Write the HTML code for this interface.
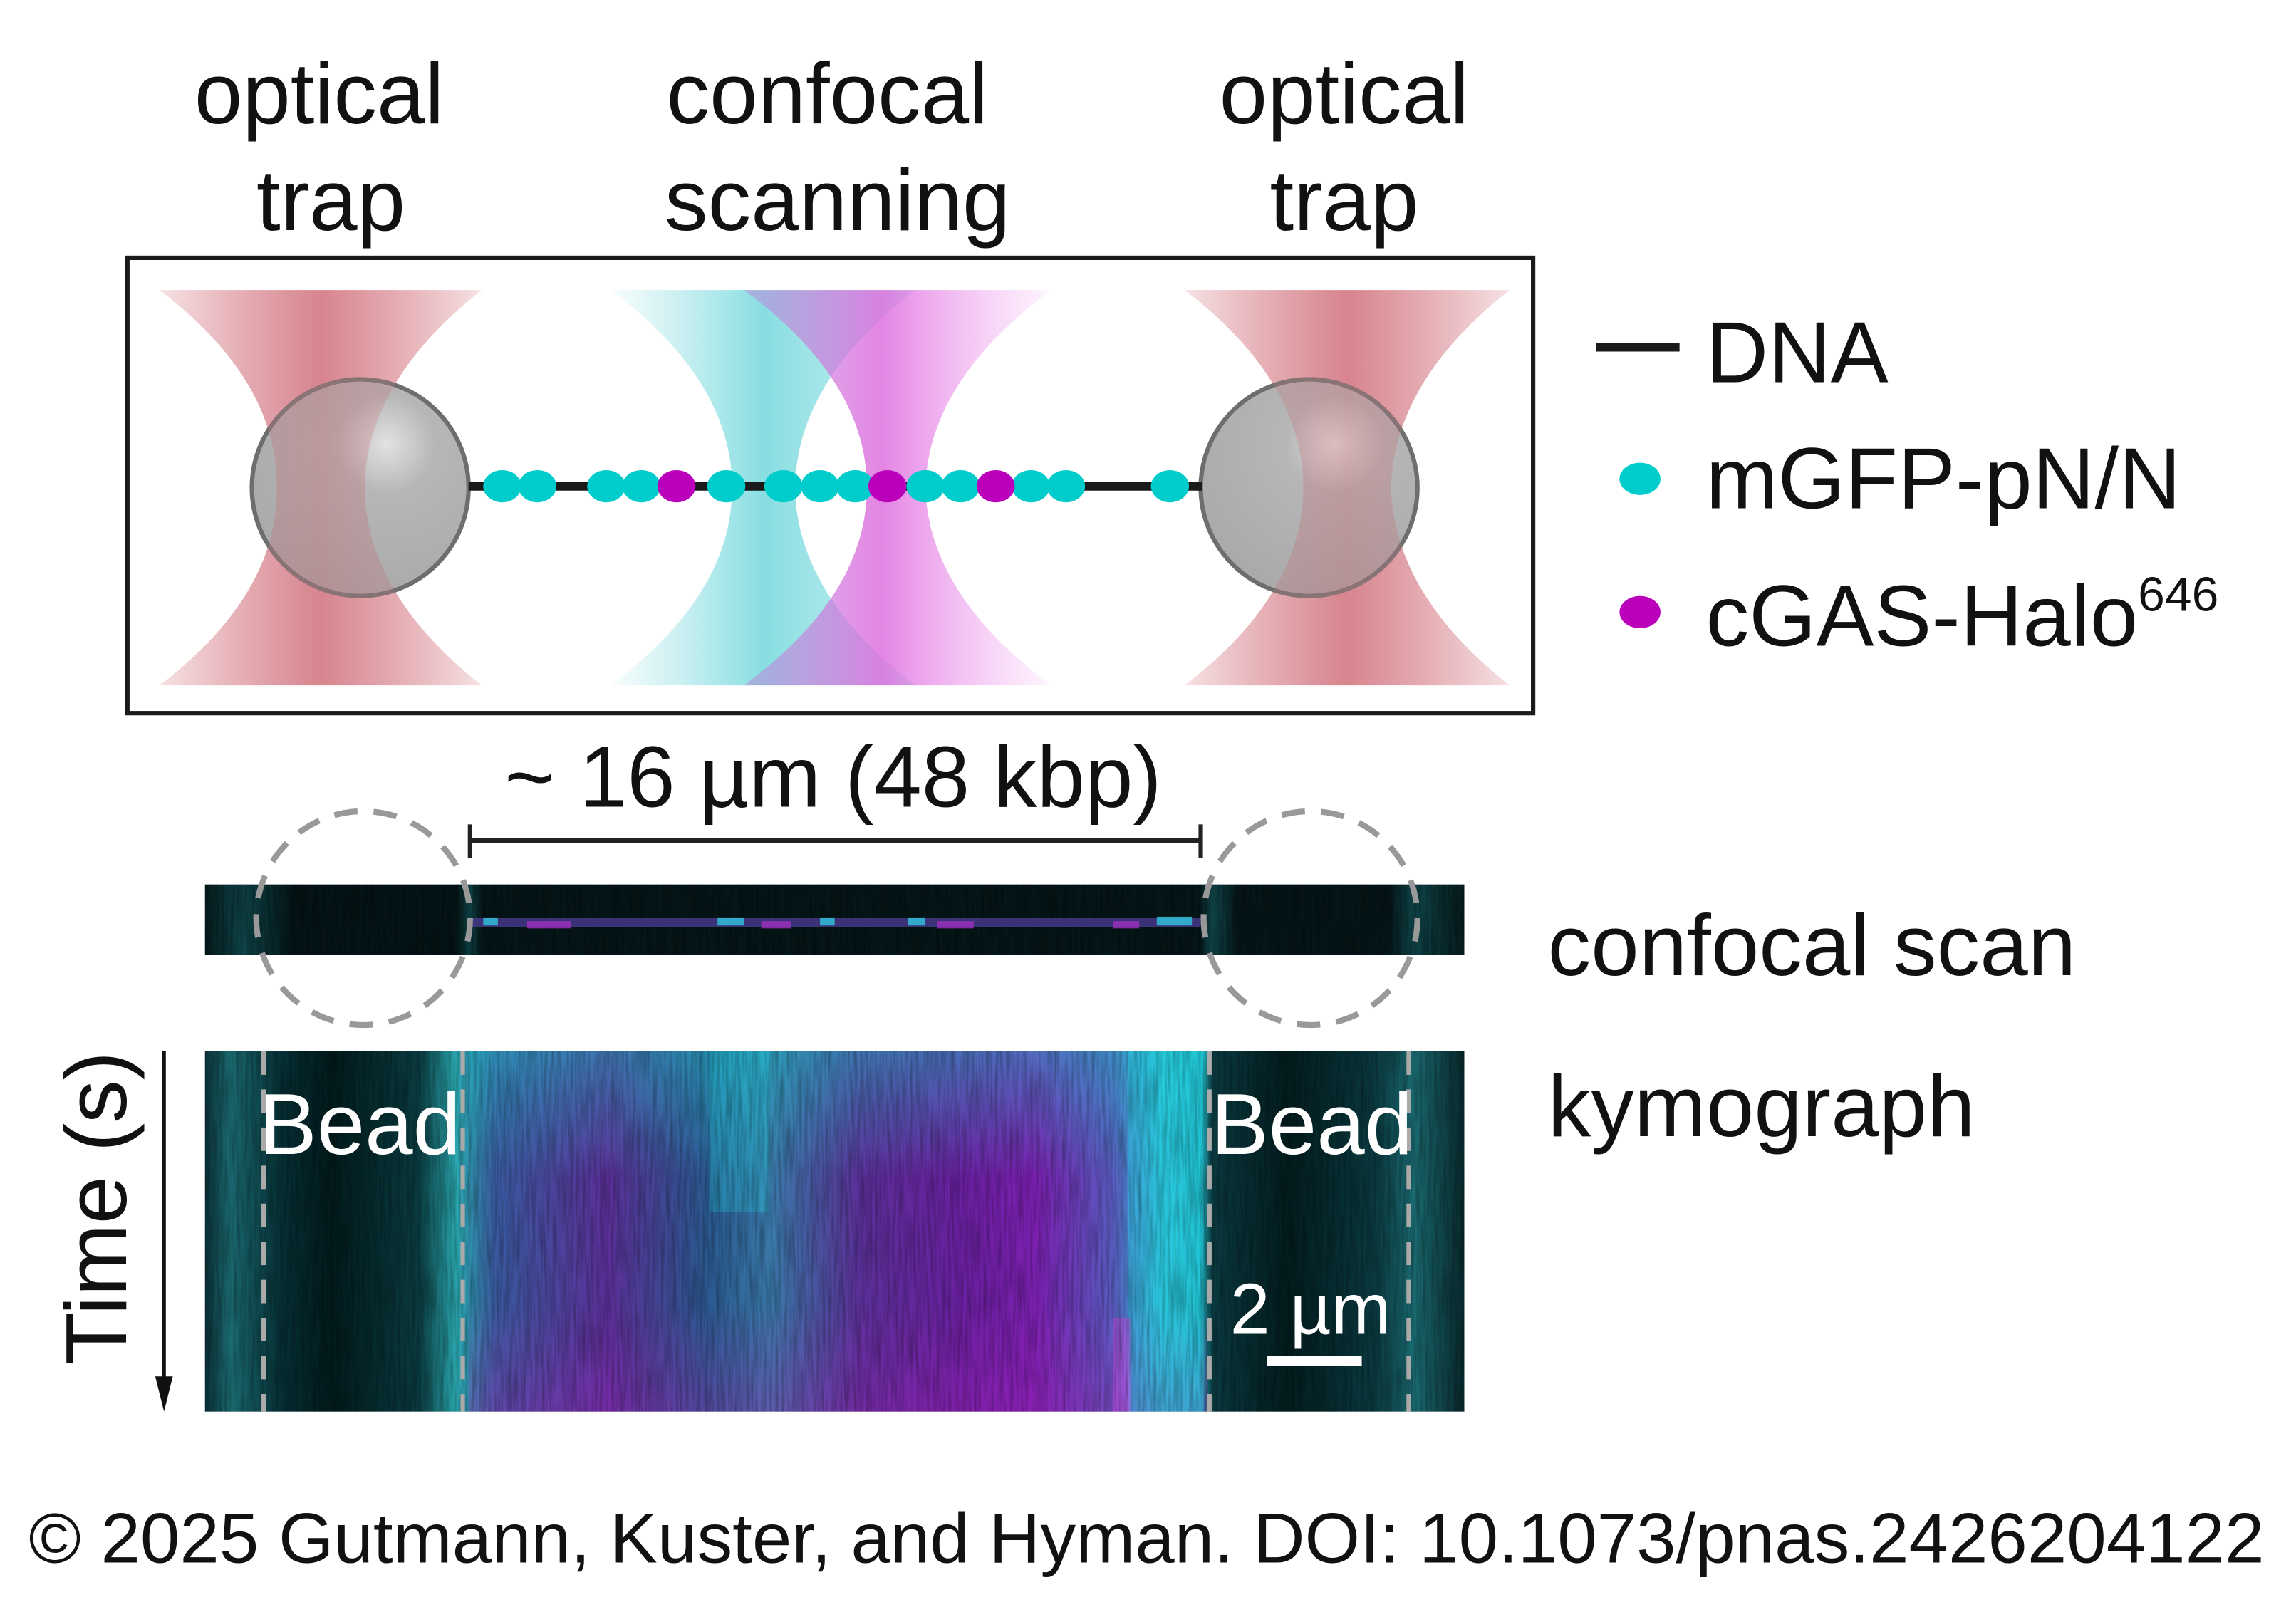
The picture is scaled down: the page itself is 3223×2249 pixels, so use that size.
<!DOCTYPE html>
<html><head><meta charset="utf-8"><style>html,body{margin:0;padding:0;background:#fff}svg{display:block}</style></head>
<body>
<svg width="3223" height="2249" viewBox="0 0 1568 1094" xmlns="http://www.w3.org/2000/svg" font-family="Liberation Sans, Arial, sans-serif">
<defs>
<linearGradient id="red" x1="0" x2="1" y1="0" y2="0">
<stop offset="0" stop-color="#d98890" stop-opacity="0.2"/><stop offset="0.5" stop-color="#d6808a" stop-opacity="0.95"/><stop offset="1" stop-color="#d98890" stop-opacity="0.2"/></linearGradient>
<linearGradient id="cyan" x1="0" x2="1"><stop offset="0" stop-color="#7fd8dc" stop-opacity="0.05"/><stop offset="0.5" stop-color="#5fd3d8" stop-opacity="0.75"/><stop offset="1" stop-color="#7fd8dc" stop-opacity="0.4"/></linearGradient>
<linearGradient id="mag" x1="0" x2="1"><stop offset="0" stop-color="#b98bd8" stop-opacity="0.5"/><stop offset="0.45" stop-color="#dd66dd" stop-opacity="0.8"/><stop offset="1" stop-color="#ee99ee" stop-opacity="0.1"/></linearGradient>
<radialGradient id="bead" cx="0.62" cy="0.3" r="0.75"><stop offset="0" stop-color="#dddddd"/><stop offset="0.3" stop-color="#aaaaaa"/><stop offset="1" stop-color="#9a9a9a"/></radialGradient>
<linearGradient id="kymo" x1="0" x2="1">
<stop offset="0" stop-color="#0a3035"/><stop offset="0.02" stop-color="#1a6a70"/><stop offset="0.06" stop-color="#063035"/><stop offset="0.1" stop-color="#021a1c"/><stop offset="0.17" stop-color="#0a3c40"/><stop offset="0.2" stop-color="#2aa8b0"/>
<stop offset="0.23" stop-color="#3a5aa0"/><stop offset="0.32" stop-color="#5a3098"/><stop offset="0.4" stop-color="#2a5a90"/><stop offset="0.45" stop-color="#3a78a8"/><stop offset="0.52" stop-color="#5a3098"/><stop offset="0.6" stop-color="#6a20a0"/><stop offset="0.66" stop-color="#7a20b0"/><stop offset="0.72" stop-color="#5a5ac0"/><stop offset="0.76" stop-color="#30c0d8"/><stop offset="0.79" stop-color="#22b8c8"/>
<stop offset="0.8" stop-color="#0a3a40"/><stop offset="0.86" stop-color="#031c1e"/><stop offset="0.93" stop-color="#0a3a40"/><stop offset="0.96" stop-color="#1a6a70"/><stop offset="1" stop-color="#08282c"/></linearGradient>
<linearGradient id="topfade" x1="0" y1="0" x2="0" y2="1"><stop offset="0" stop-color="#20c8d0" stop-opacity="0.45"/><stop offset="0.35" stop-color="#20c8d0" stop-opacity="0"/><stop offset="0.7" stop-color="#b020c0" stop-opacity="0"/><stop offset="1" stop-color="#b020c0" stop-opacity="0.3"/></linearGradient>
<filter id="noise" x="0" y="0" width="1" height="1"><feTurbulence type="fractalNoise" baseFrequency="0.5 0.03" numOctaves="2" seed="3"/><feColorMatrix type="matrix" values="0 0 0 0 0  0 0 0 0 0  0 0 0 0 0  0 0 0 -1.2 0.8"/></filter>
<linearGradient id="scan" x1="0" x2="1"><stop offset="0" stop-color="#061a1c"/><stop offset="0.03" stop-color="#0e4448"/><stop offset="0.07" stop-color="#041416"/><stop offset="0.2" stop-color="#041416"/><stop offset="0.21" stop-color="#0e4448"/><stop offset="0.22" stop-color="#051618"/><stop offset="0.79" stop-color="#051618"/><stop offset="0.8" stop-color="#10484c"/><stop offset="0.82" stop-color="#051618"/><stop offset="0.94" stop-color="#051618"/><stop offset="0.96" stop-color="#0e4448"/><stop offset="1" stop-color="#061a1c"/></linearGradient>
</defs>
<g font-size="59" text-anchor="middle" fill="#111">
<text x="218" y="84">optical</text><text x="226" y="157">trap</text>
<text x="565" y="84">confocal</text><text x="572" y="157">scanning</text>
<text x="918" y="84">optical</text><text x="918" y="157">trap</text>
</g>
<rect x="87" y="176" width="960" height="311" fill="#fff" stroke="#1a1a1a" stroke-width="3"/>
<path d="M109,198 L329,198 Q250,260 249,333 Q250,406 329,468 L109,468 Q190,406 189,333 Q190,260 109,198Z" fill="url(#red)"/>
<path d="M809,198 L1031,198 Q952,260 950,333 Q952,406 1031,468 L809,468 Q890,406 890,333 Q890,260 809,198Z" fill="url(#red)"/>
<path d="M417,198 L625,198 Q544,260 543,333 Q544,406 625,468 L417,468 Q500,406 500,333 Q500,260 417,198Z" fill="url(#cyan)"/>
<path d="M508,198 L718,198 Q634,260 632,333 Q634,406 718,468 L508,468 Q592,406 592,333 Q592,260 508,198Z" fill="url(#mag)"/>
<circle cx="246" cy="333" r="74" fill="url(#bead)" fill-opacity="0.85" stroke="#6e6e6e" stroke-width="3"/>
<circle cx="894" cy="333" r="74" fill="url(#bead)" fill-opacity="0.85" stroke="#6e6e6e" stroke-width="3"/>
<path d="M109,198 L329,198 Q250,260 249,333 Q250,406 329,468 L109,468 Q190,406 189,333 Q190,260 109,198Z" fill="url(#red)" opacity="0.3"/>
<path d="M809,198 L1031,198 Q952,260 950,333 Q952,406 1031,468 L809,468 Q890,406 890,333 Q890,260 809,198Z" fill="url(#red)" opacity="0.3"/>
<line x1="320" y1="332" x2="821" y2="332" stroke="#1a1a1a" stroke-width="6"/>
<g fill="#00cccc">
<ellipse cx="343" cy="332" rx="13" ry="11"/><ellipse cx="367" cy="332" rx="13" ry="11"/>
<ellipse cx="414" cy="332" rx="13" ry="11"/><ellipse cx="438" cy="332" rx="13" ry="11"/>
<ellipse cx="496" cy="332" rx="13" ry="11"/>
<ellipse cx="535" cy="332" rx="13" ry="11"/><ellipse cx="560" cy="332" rx="13" ry="11"/><ellipse cx="584" cy="332" rx="13" ry="11"/>
<ellipse cx="632" cy="332" rx="13" ry="11"/><ellipse cx="656" cy="332" rx="13" ry="11"/>
<ellipse cx="704" cy="332" rx="13" ry="11"/><ellipse cx="728" cy="332" rx="13" ry="11"/>
<ellipse cx="799" cy="332" rx="13" ry="11"/>
</g>
<g fill="#bb00bb">
<ellipse cx="462" cy="332" rx="13" ry="11"/><ellipse cx="606" cy="332" rx="13" ry="11"/><ellipse cx="680" cy="332" rx="13" ry="11"/>
</g>
<line x1="1090" y1="237" x2="1147" y2="237" stroke="#1a1a1a" stroke-width="6"/>
<ellipse cx="1120" cy="327" rx="14" ry="11" fill="#00cccc"/>
<ellipse cx="1120" cy="418" rx="14" ry="11" fill="#bb00bb"/>
<g font-size="59" fill="#111">
<text x="1165" y="261">DNA</text>
<text x="1165" y="347">mGFP-pN/N</text>
<text x="1165" y="441">cGAS-Halo<tspan font-size="33" dy="-24">646</tspan></text>
</g>
<text x="569" y="551" font-size="59" text-anchor="middle" fill="#111">~ 16 µm (48 kbp)</text>
<g stroke="#222" stroke-width="3"><line x1="321" y1="574" x2="820" y2="574"/><line x1="321" y1="563" x2="321" y2="586"/><line x1="820" y1="563" x2="820" y2="586"/></g>
<rect x="140" y="604" width="860" height="48" fill="url(#scan)"/>
<rect x="140" y="604" width="860" height="48" filter="url(#noise)" opacity="0.5"/>
<rect x="320" y="627" width="500" height="6" fill="#4a3a90" opacity="0.8"/>
<g fill="#30c8e0" opacity="0.8"><rect x="330" y="627" width="10" height="5"/><rect x="490" y="627" width="18" height="5"/><rect x="560" y="627" width="10" height="5"/><rect x="620" y="627" width="12" height="5"/><rect x="790" y="626" width="24" height="6"/></g>
<g fill="#a030c0" opacity="0.8"><rect x="360" y="629" width="30" height="5"/><rect x="520" y="629" width="20" height="5"/><rect x="640" y="629" width="25" height="5"/><rect x="760" y="629" width="18" height="5"/></g>
<g fill="none" stroke="#999" stroke-width="4" stroke-dasharray="16 11"><circle cx="248" cy="627" r="73"/><circle cx="895" cy="627" r="73"/></g>
<g font-size="59" fill="#111"><text x="1057" y="666">confocal scan</text><text x="1057" y="776">kymograph</text></g>
<rect x="140" y="718" width="860" height="246" fill="url(#kymo)"/>
<rect x="320" y="718" width="505" height="246" fill="url(#topfade)"/>
<rect x="485" y="718" width="40" height="110" fill="#20d0e0" opacity="0.3"/>
<rect x="770" y="718" width="52" height="246" fill="#20d8e8" opacity="0.35"/>
<rect x="760" y="900" width="12" height="64" fill="#e040e8" opacity="0.4"/>
<rect x="140" y="718" width="860" height="246" filter="url(#noise)" opacity="0.45"/>
<g stroke="#aaa" stroke-width="3" stroke-dasharray="16 10"><line x1="180" y1="718" x2="180" y2="964"/><line x1="316" y1="718" x2="316" y2="964"/><line x1="826" y1="718" x2="826" y2="964"/><line x1="962" y1="718" x2="962" y2="964"/></g>
<g font-size="59" fill="#fff"><text x="177" y="788">Bead</text><text x="827" y="788">Bead</text><text x="840" y="911" font-size="49">2 µm</text></g>
<rect x="865" y="926" width="65" height="7" fill="#fff"/>
<text transform="translate(86,825) rotate(-90)" font-size="59" text-anchor="middle" fill="#111">Time (s)</text>
<line x1="112" y1="718" x2="112" y2="948" stroke="#111" stroke-width="2.5"/>
<path d="M106,940 L118,940 L112,964Z" fill="#111"/>
<text x="783" y="1067" font-size="48.5" text-anchor="middle" fill="#111">© 2025 Gutmann, Kuster, and Hyman. DOI: 10.1073/pnas.2426204122</text>
</svg>
</body></html>
